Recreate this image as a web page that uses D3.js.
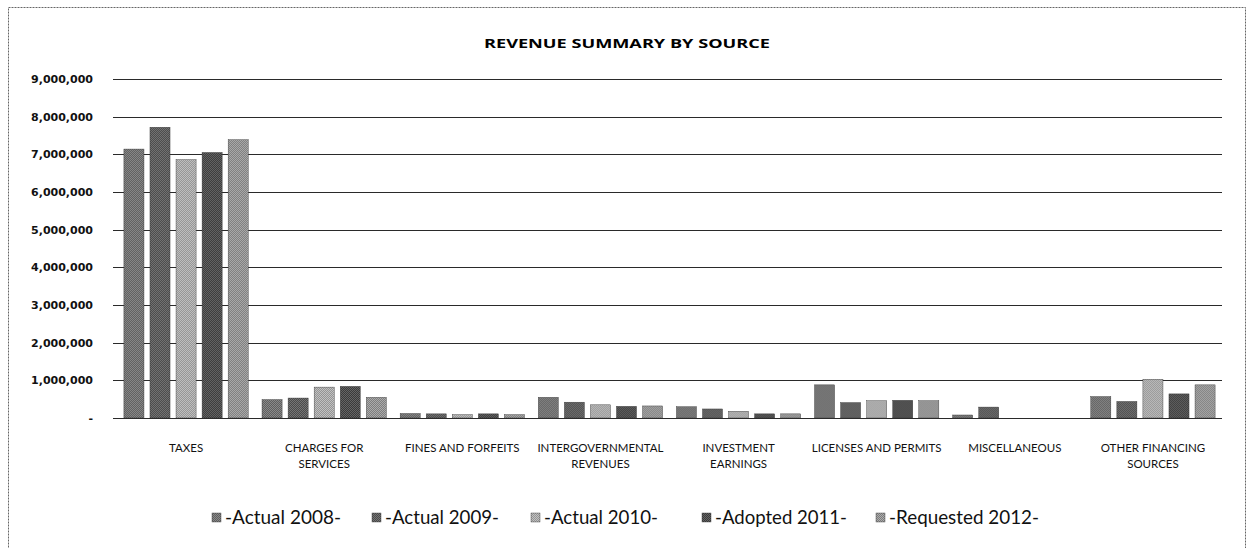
<!DOCTYPE html>
<html>
<head>
<meta charset="utf-8">
<script src="https://cdn.jsdelivr.net/npm/d3@7"></script>
<style>
  html, body { margin: 0; padding: 0; background: #fff; }
  svg { display: block; }
</style>
</head>
<body>
<div id="chart"></div>
<script>
// ===== data =====
const categories = [
  ["TAXES"],
  ["CHARGES FOR", "SERVICES"],
  ["FINES AND FORFEITS"],
  ["INTERGOVERNMENTAL", "REVENUES"],
  ["INVESTMENT", "EARNINGS"],
  ["LICENSES AND PERMITS"],
  ["MISCELLANEOUS"],
  ["OTHER FINANCING", "SOURCES"]
];
const seriesNames = ["-Actual 2008-", "-Actual 2009-", "-Actual 2010-", "-Adopted 2011-", "-Requested 2012-"];
const actual2008 = [7140000, 490000, 120000, 550000, 300000, 880000, 80000, 570000];
const actual2009 = [7720000, 530000, 110000, 420000, 240000, 410000, 290000, 440000];
const actual2010 = [6860000, 820000, 90000, 350000, 180000, 460000, 0, 1030000];
const adopted2011 = [7050000, 840000, 110000, 310000, 110000, 470000, 0, 640000];
const requested2012 = [7390000, 550000, 90000, 320000, 110000, 460000, 0, 880000];
const yTicks = [0, 1000000, 2000000, 3000000, 4000000, 5000000, 6000000, 7000000, 8000000, 9000000];

// halftone-ish grays: [dark, light]
const shades = [["#5e5e5e", "#8a8a8a"], ["#4a4a4a", "#767676"], ["#939393", "#c2c2c2"], ["#3a3a3a", "#666666"], ["#7c7c7c", "#adadad"]];

const allSeries = [actual2008, actual2009, actual2010, adopted2011, requested2012];

const W = 1246, H = 548;
const M = { top: 79, left: 117, right: 24, bottom: 130 };
const innerW = W - M.left - M.right;
const innerH = 418 - M.top;

const svg = d3.select('#chart').append('svg').attr('width', W).attr('height', H);

// patterns
const defs = svg.append('defs');
shades.forEach((s, i) => {
  const p = defs.append('pattern').attr('id', 'pat' + i)
    .attr('width', 2).attr('height', 2).attr('patternUnits', 'userSpaceOnUse');
  p.append('rect').attr('width', 2).attr('height', 2).attr('fill', s[1]);
  p.append('rect').attr('width', 1).attr('height', 1).attr('fill', s[0]);
  p.append('rect').attr('x', 1).attr('y', 1).attr('width', 1).attr('height', 1).attr('fill', s[0]);
});

// outer frame (scan border)
svg.append('rect').attr('x', 8.5).attr('y', 7.5).attr('width', W - 9).attr('height', H)
  .attr('fill', 'none').attr('stroke', '#666').attr('stroke-width', 1).attr('stroke-dasharray', '2,1');

svg.append('text')
  .attr('x', 627).attr('y', 48)
  .attr('text-anchor', 'middle')
  .style('font-family', '"Open Sans", sans-serif')
  .style('font-weight', 'bold')
  .style('font-size', '13px')
  .attr('textLength', 286)
  .attr('lengthAdjust', 'spacingAndGlyphs')
  .text('REVENUE SUMMARY BY SOURCE');

const g = svg.append('g').attr('transform', `translate(${M.left},${M.top})`);

const x0 = d3.scaleBand().domain(d3.range(categories.length)).range([0, innerW]).paddingInner(0.1).paddingOuter(0.05);
const x1 = d3.scaleBand().domain(d3.range(seriesNames.length)).range([0, x0.bandwidth()]).paddingInner(0.23);
const y = d3.scaleLinear().domain([0, 9000000]).range([innerH, 0]);

// gridlines
g.append('g').selectAll('line').data(yTicks).join('line')
  .attr('x1', -4).attr('x2', innerW)
  .attr('y1', d => Math.round(y(d)) + 0.5).attr('y2', d => Math.round(y(d)) + 0.5)
  .attr('stroke', '#2a2a2a').attr('stroke-width', 1);

// y labels
const fmt = d3.format(',');
g.append('g').selectAll('text').data(yTicks).join('text')
  .attr('x', -24).attr('y', d => y(d) + 4)
  .attr('text-anchor', 'end')
  .style('font-family', 'DejaVu Sans, Verdana, sans-serif')
  .style('font-weight', 'bold')
  .style('font-size', '11px')
  .attr('fill', '#111')
  .text(d => d === 0 ? '-' : fmt(d));

// bars
const cg = g.selectAll('g.cat').data(categories).join('g')
  .attr('class', 'cat')
  .attr('transform', (d, i) => `translate(${x0(i)},0)`);

cg.selectAll('rect').data((d, ci) => allSeries.map((s, si) => ({ si, v: s[ci] }))).join('rect')
  .attr('x', d => x1(d.si))
  .attr('width', x1.bandwidth())
  .attr('y', d => y(d.v))
  .attr('height', d => innerH - y(d.v))
  .attr('fill', d => `url(#pat${d.si})`)
  .attr('stroke', '#333')
  .attr('stroke-width', 0.4);

// category labels
const labFont = 'Lato, "Open Sans", sans-serif';
cg.each(function (d) {
  const t = d3.select(this).append('text')
    .attr('text-anchor', 'middle')
    .style('font-family', labFont)
    .style('font-size', '11.5px')
    .attr('fill', '#111');
  d.forEach((line, li) => {
    t.append('tspan').attr('x', x0.bandwidth() / 2).attr('y', innerH + 34 + li * 16).text(line);
  });
});

// legend
const legendX = [212, 372, 531, 702, 876];
const legendW = [116, 114, 114, 132, 150];
const lg = svg.append('g');
seriesNames.forEach((n, i) => {
  lg.append('rect').attr('x', legendX[i]).attr('y', 513).attr('width', 9).attr('height', 9)
    .attr('fill', `url(#pat${i})`).attr('stroke', '#333').attr('stroke-width', 0.4);
  lg.append('text').attr('x', legendX[i] + 13).attr('y', 524)
    .style('font-family', 'Lato, sans-serif')
    .style('font-size', '19px')
    .attr('fill', '#111')
    .attr('textLength', legendW[i])
    .attr('lengthAdjust', 'spacingAndGlyphs')
    .text(n);
});
</script>
</body>
</html>
